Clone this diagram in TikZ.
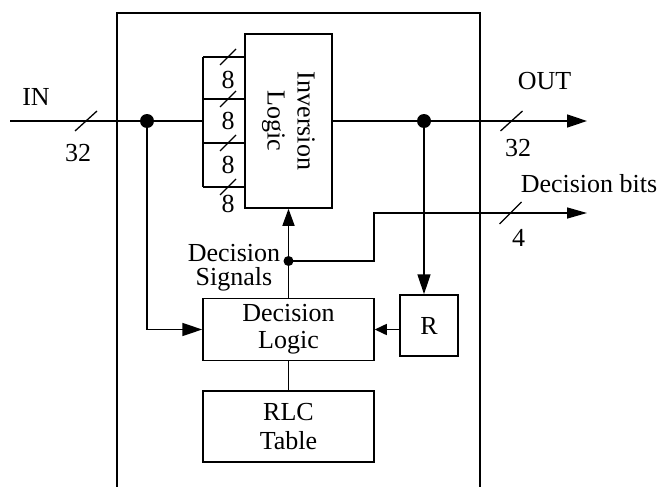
\documentclass[tikz,border=0pt]{standalone}
\usepackage{fontspec}
\setmainfont{Liberation Serif}
\usetikzlibrary{arrows.meta}
\begin{document}
\begin{tikzpicture}[x=1pt,y=-1pt,line width=1.5pt,
  >={Triangle[length=20pt,width=13pt]},
  blk/.style={draw,rectangle,inner sep=0pt,align=center,font=\fontsize{26}{27}\selectfont},
  lbl/.style={inner sep=0pt,font=\fontsize{26}{29}\selectfont},
  busslash/.style={line width=1.3pt}]
\useasboundingbox (0,0) rectangle (659,487);
% outer frame (open at the bottom)
\draw (117,487) |- (480,13) -- (480,487);
% blocks
\node[blk,minimum width=87pt,minimum height=174pt] (inv) at (288.5,121) {};
\node[lbl,rotate=-90,align=center,font=\fontsize{26}{30}\selectfont] (invtxt) at (inv.center) {Inversion\\Logic};
\node[blk,minimum width=171pt,minimum height=62pt] (dl) at (288.5,329.5) {Decision\\Logic};
\node[blk,minimum width=171pt,minimum height=71pt,font=\fontsize{26}{29}\selectfont] (rlc) at (288.5,426.5) {RLC\\Table};
\node[blk,minimum width=58pt,minimum height=61pt] (r) at (429,325.5) {R};
% coordinates
\coordinate (inL) at (10,121);
\coordinate (d1) at (147,121);
\coordinate (bus) at (203,121);
\coordinate (b1) at (203,57);
\coordinate (b2) at (203,99);
\coordinate (b3) at (203,143);
\coordinate (b4) at (203,187);
\coordinate (d2) at (424,121);
\coordinate (outE) at (587,121);
\coordinate (d3) at (288.5,261);
\coordinate (bend) at (374,213);
\coordinate (bitsE) at (587,213);
% connectors
\draw (inL) -- (bus);
\draw (b1) -- (b4);
\foreach \b in {b1,b2,b3,b4} \draw (\b) -- (\b -| inv.west);
\draw[->] (inv.east) -- (outE);
\draw[->] (d1) |- (dl.west);
\draw[->] (d2) -- (d2 |- r.north);
\draw[-{Triangle[length=12pt,width=11pt]}] (r.west |- dl.east) -- (dl.east);
\draw[-{Triangle[length=17pt,width=12pt]}] (dl.north) -- (inv.south);
\draw[-{Triangle[length=20pt,width=11pt]}] (d3) -| (bend) -- (bitsE);
\draw (dl.south) -- (rlc.north);
% junction dots
\fill (d1) circle (7pt);
\fill (d2) circle (7pt);
\fill (d3) circle (5pt);
% bus width slashes
\draw[busslash] ([shift={(-11,10)}]86,121) -- ++(22,-20);
\draw[busslash] ([shift={(-11,10)}]511.5,121) -- ++(22,-20);
\draw[busslash] ([shift={(-11,11)}]510.5,213) -- ++(22,-22);
\foreach \yy in {57,99,143,187} \draw[busslash] ([shift={(-8,8)}]228,\yy) -- ++(16,-16);
% labels
\node[lbl,anchor=base] (inlbl) at (36,106) {IN};
\node[lbl] (in32) at (78,153) {32};
\node[lbl] (outlbl) at (544.5,81) {OUT};
\node[lbl] (out32) at (518,148) {32};
\node[lbl] (bits4) at (518.5,238) {4};
\node[lbl,anchor=base] (bitslbl) at (589,192) {Decision bits};
\node[lbl] (e1) at (228,80) {8};
\node[lbl] (e2) at (228,121) {8};
\node[lbl] (e3) at (228,165) {8};
\node[lbl] (e4) at (228,204) {8};
\node[lbl,align=center,font=\fontsize{26}{24}\selectfont] (dsig) at (234,268) {Decision\\Signals};
\end{tikzpicture}
\end{document}
